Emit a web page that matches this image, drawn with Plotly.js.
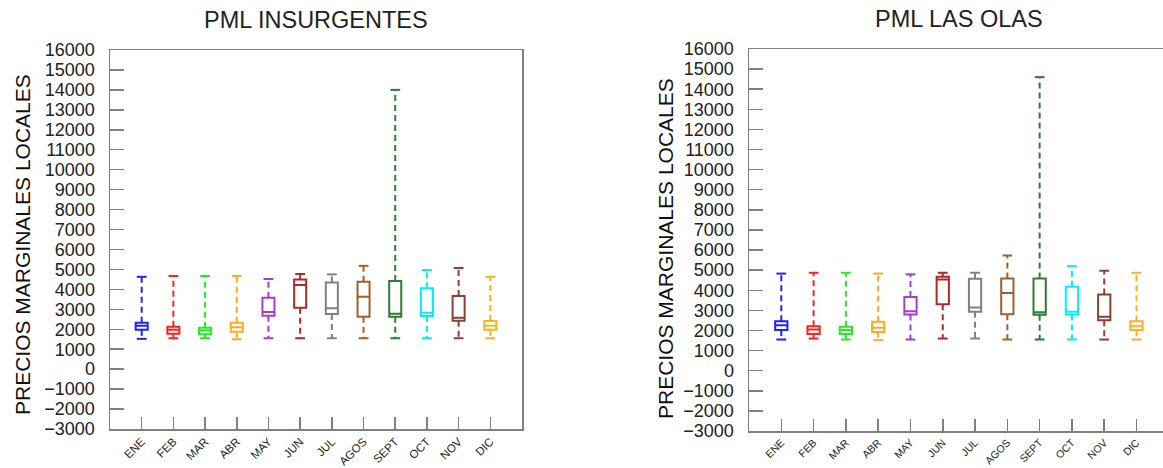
<!DOCTYPE html>
<html>
<head>
<meta charset="utf-8">
<script src="https://cdn.plot.ly/plotly-3.0.1.min.js"></script>
<style>
html,body{margin:0;padding:0;background:#fff;overflow:hidden;}
#chart{width:1163px;height:468px;}
</style>
</head>
<body>
<div id="chart"></div>
<script>
// ---- data ----
const months = ['ENE','FEB','MAR','ABR','MAY','JUN','JUL','AGOS','SEPT','OCT','NOV','DIC'];
const colors = ['#2020ff','#ff2020','#20ee20','#ffa820','#a040d0','#b02828','#808080','#a0602d','#2e7d32','#00eeff','#8b4036','#ffb020'];

// PML INSURGENTES
const insLower = [1520,1550,1550,1500,1550,1550,1550,1550,1550,1550,1550,1550];
const insQ1    = [1970,1770,1750,1880,2680,3080,2770,2630,2630,2670,2430,1970];
const insMed   = [2170,1970,1950,2100,2870,4220,3050,3630,2780,2830,2580,2170];
const insQ3    = [2330,2130,2080,2330,3580,4500,4350,4380,4420,4050,3670,2420];
const insUpper = [4630,4670,4670,4670,4520,4770,4750,5180,14000,4970,5070,4630];

// PML LAS OLAS
const olaLower = [1550,1600,1550,1520,1550,1600,1600,1550,1550,1550,1550,1550];
const olaQ1    = [2020,1820,1820,1930,2800,3310,2930,2810,2780,2800,2510,2020];
const olaMed   = [2260,2050,2020,2130,2960,4540,3140,3870,2910,2930,2680,2210];
const olaQ3    = [2460,2210,2180,2430,3670,4670,4570,4590,4590,4170,3790,2460];
const olaUpper = [4830,4870,4870,4830,4790,4870,4870,5730,14600,5200,4970,4870];

const yTitle = 'PRECIOS MARGINALES LOCALES';
const titles = ['PML INSURGENTES','PML LAS OLAS'];

// ---- traces ----
const traces = [];
function addPanel(lower, q1, med, q3, upper, xa, ya){
  months.forEach((m,i)=>{
    traces.push({
      type:'box', xaxis:xa, yaxis:ya, x:[m],
      q1:[q1[i]], median:[med[i]], q3:[q3[i]],
      lowerfence:[q1[i]], upperfence:[q3[i]],
      width:0.38, whiskerwidth:0,
      line:{color:colors[i], width:2},
      fillcolor:'rgba(255,255,255,0)',
      hoverinfo:'skip', showlegend:false
    });
    traces.push({
      type:'scatter', mode:'lines', xaxis:xa, yaxis:ya,
      x:[m,m,null,m,m], y:[q3[i],upper[i],null,q1[i],lower[i]],
      line:{color:colors[i], width:2, dash:'6px,4px'},
      hoverinfo:'skip', showlegend:false
    });
    traces.push({
      type:'scatter', mode:'markers', xaxis:xa, yaxis:ya,
      x:[m,m], y:[upper[i],lower[i]],
      marker:{symbol:'line-ew', size:7, line:{color:colors[i], width:2}},
      hoverinfo:'skip', showlegend:false
    });
  });
}
addPanel(insLower,insQ1,insMed,insQ3,insUpper,'x','y');
addPanel(olaLower,olaQ1,olaMed,olaQ3,olaUpper,'x2','y2');

const W=1163, H=468;
const axisLine = '#808080';
const fam = 'Liberation Sans, Arial, sans-serif';
function xax(domain, range, fs){
  return {
    domain:domain, range:range, type:'category',
    categoryorder:'array', categoryarray:months,
    showgrid:false, zeroline:false,
    showline:true, linecolor:axisLine, linewidth:1.5, mirror:true,
    ticks:'inside', ticklen:12, tickcolor:axisLine, tickwidth:1.5,
    tickangle:-45, tickfont:{family:fam, size:fs, color:'#222'},
    fixedrange:true
  };
}
function yax(domain, anchor, mirror){
  return {
    domain:domain, anchor:anchor, range:[-3000,16000], dtick:1000, tick0:0,
    tickformat:'d', exponentformat:'none', separatethousands:false,
    showgrid:false, zeroline:false,
    showline:true, linecolor:axisLine, linewidth:1.5, mirror:mirror,
    ticks:'inside', ticklen:14, tickcolor:axisLine, tickwidth:1.5,
    ticklabelstandoff:10,
    tickfont:{family:fam, size:18, color:'#222'},
    fixedrange:true
  };
}

const layout = {
  width:W, height:H,
  margin:{l:0,r:0,t:0,b:0},
  paper_bgcolor:'#fff', plot_bgcolor:'#fff',
  showlegend:false,
  xaxis: Object.assign(xax([110/W, 522/W], [-1,12], 11.5), {anchor:'y'}),
  yaxis: yax([(H-429)/H, (H-50)/H], 'x', true),
  xaxis2: Object.assign(xax([749/W, 1], [-1, 11.82], 10.5), {anchor:'y2'}),
  yaxis2: yax([(H-431)/H, (H-49)/H], 'x2', false),
  annotations:[
    {text:titles[0], xref:'paper', yref:'paper', x:316/W, y:(H-20)/H, xanchor:'center', yanchor:'middle', showarrow:false,
     font:{family:fam, size:23.5, color:'#222'}},
    {text:titles[1], xref:'paper', yref:'paper', x:959/W, y:(H-19)/H, xanchor:'center', yanchor:'middle', showarrow:false,
     font:{family:fam, size:23.5, color:'#222'}},
    {text:yTitle, xref:'paper', yref:'paper', x:22/W, y:(H-245)/H, xanchor:'center', yanchor:'middle', textangle:-90, showarrow:false,
     font:{family:fam, size:21, color:'#111'}},
    {text:yTitle, xref:'paper', yref:'paper', x:665/W, y:(H-249)/H, xanchor:'center', yanchor:'middle', textangle:-90, showarrow:false,
     font:{family:fam, size:21, color:'#111'}}
  ]
};

Plotly.newPlot('chart', traces, layout, {staticPlot:true, displayModeBar:false});
</script>
</body>
</html>
